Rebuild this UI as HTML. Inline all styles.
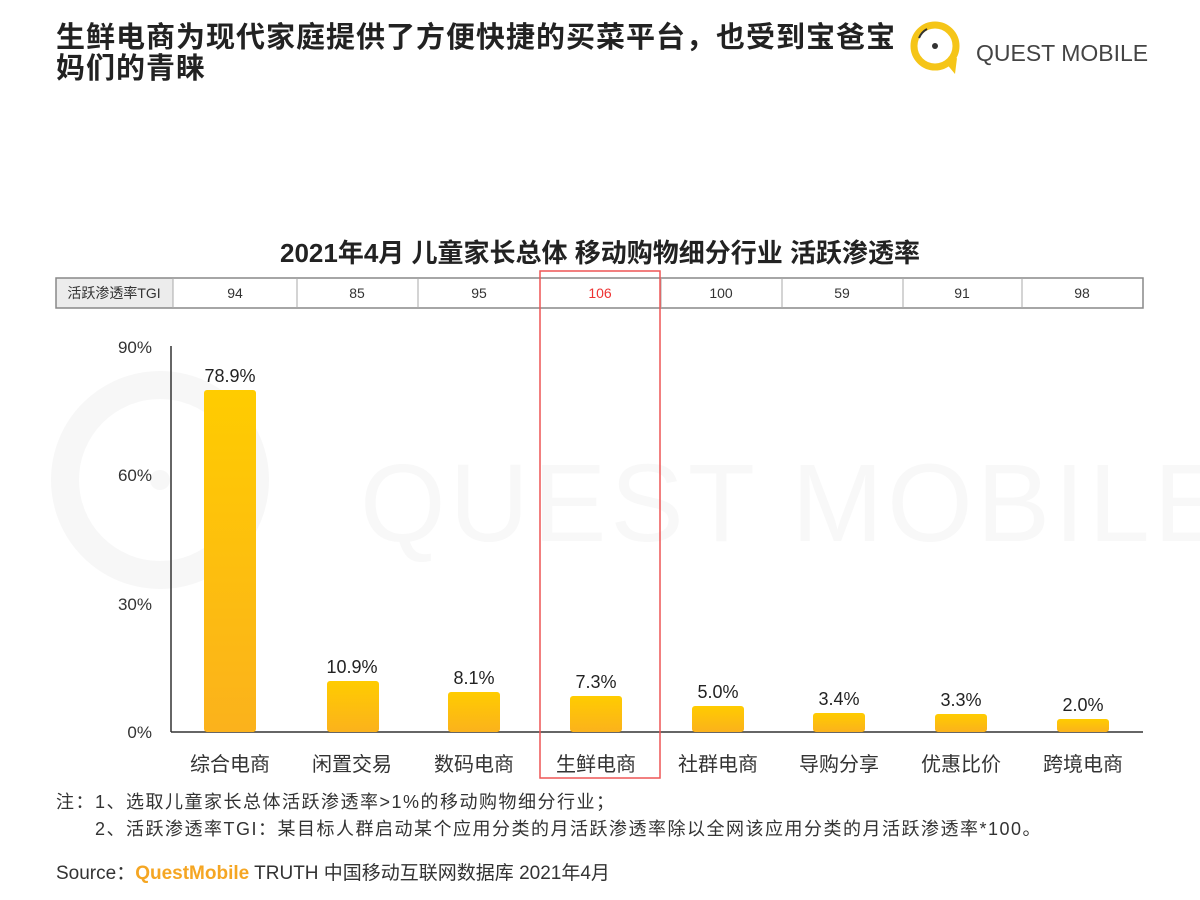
<!DOCTYPE html>
<html><head><meta charset="utf-8"><style>
body{margin:0;width:1200px;height:900px;background:#fff;font-family:"Liberation Sans","Noto Sans CJK SC",sans-serif;position:relative;overflow:hidden}
.a{position:absolute;white-space:nowrap}
</style></head><body>
<div class="a" style="left:56px;top:23px;font-size:29px;letter-spacing:1px;font-weight:bold;line-height:31px;color:#222">生鲜电商为现代家庭提供了方便快捷的买菜平台，也受到宝爸宝<br>妈们的青睐</div>
<svg class="a" style="left:905px;top:14px" width="70" height="62"><circle cx="30" cy="32" r="21" fill="none" stroke="#f5c518" stroke-width="7"/><path d="M40 48 L50 60 L52 44Z" fill="#f5c518"/><circle cx="30" cy="32" r="3" fill="#333"/><path d="M14 24 A18 18 0 0 1 22 15" stroke="#333" stroke-width="2" fill="none"/></svg>
<div class="a" style="left:976px;top:40px;font-size:23px;color:#444">QUEST MOBILE</div>
<svg class="a" style="left:50px;top:350px" width="260" height="260"><circle cx="110" cy="130" r="95" fill="none" stroke="#f7f7f7" stroke-width="28"/><circle cx="110" cy="130" r="10" fill="#f7f7f7"/></svg>
<div class="a" style="left:360px;top:440px;font-size:110px;color:#f8f8f8;letter-spacing:4px">QUEST MOBILE</div>
<div class="a" style="left:0;width:1200px;text-align:center;top:233px;font-size:26px;font-weight:bold;color:#222">2021年4月 儿童家长总体 移动购物细分行业 活跃渗透率</div>
<svg class="a" style="left:0;top:0" width="1200" height="900">
<defs><linearGradient id="g" x1="0" y1="0" x2="0" y2="1"><stop offset="0" stop-color="#ffcc00"/><stop offset="1" stop-color="#fbb21c"/></linearGradient></defs>
<rect x="56" y="278" width="117" height="30" fill="#ececec"/>
<rect x="56" y="278" width="1087" height="30" fill="none" stroke="#888" stroke-width="1.5"/>
<g stroke="#aaa"><line x1="173" y1="278" x2="173" y2="308"/><line x1="297" y1="278" x2="297" y2="308"/><line x1="418" y1="278" x2="418" y2="308"/><line x1="540" y1="278" x2="540" y2="308"/><line x1="661" y1="278" x2="661" y2="308"/><line x1="782" y1="278" x2="782" y2="308"/><line x1="903" y1="278" x2="903" y2="308"/><line x1="1022" y1="278" x2="1022" y2="308"/></g>
<g font-size="14" text-anchor="middle" fill="#333" font-family="Liberation Sans,Noto Sans CJK SC,sans-serif">
<text x="114" y="298">活跃渗透率TGI</text><text x="235" y="298">94</text><text x="357" y="298">85</text><text x="479" y="298">95</text><text x="600" y="298" fill="#e33">106</text><text x="721" y="298">100</text><text x="842" y="298">59</text><text x="962" y="298">91</text><text x="1082" y="298">98</text></g>
<line x1="171" y1="346" x2="171" y2="732" stroke="#333" stroke-width="1.5"/>
<line x1="171" y1="732" x2="1143" y2="732" stroke="#333" stroke-width="1.5"/>
<g font-size="17" text-anchor="end" fill="#333"><text x="152" y="353">90%</text><text x="152" y="481">60%</text><text x="152" y="610">30%</text><text x="152" y="738">0%</text></g>
<g fill="url(#g)">
<rect x="204" y="390" width="52" height="342" rx="3"/>
<rect x="327" y="681" width="52" height="51" rx="3"/>
<rect x="448" y="692" width="52" height="40" rx="3"/>
<rect x="570" y="696" width="52" height="36" rx="3"/>
<rect x="692" y="706" width="52" height="26" rx="3"/>
<rect x="813" y="713" width="52" height="19" rx="3"/>
<rect x="935" y="714" width="52" height="18" rx="3"/>
<rect x="1057" y="719" width="52" height="13" rx="3"/></g>
<g font-size="18" text-anchor="middle" fill="#222">
<text x="230" y="382">78.9%</text><text x="352" y="673">10.9%</text><text x="474" y="684">8.1%</text><text x="596" y="688">7.3%</text><text x="718" y="698">5.0%</text><text x="839" y="705">3.4%</text><text x="961" y="706">3.3%</text><text x="1083" y="711">2.0%</text></g>
<g font-size="20" text-anchor="middle" fill="#333" font-family="Liberation Sans,Noto Sans CJK SC,sans-serif">
<text x="230" y="771">综合电商</text><text x="352" y="771">闲置交易</text><text x="474" y="771">数码电商</text><text x="596" y="771">生鲜电商</text><text x="718" y="771">社群电商</text><text x="839" y="771">导购分享</text><text x="961" y="771">优惠比价</text><text x="1083" y="771">跨境电商</text></g>
<rect x="540" y="271" width="120" height="507" fill="none" stroke="#e55" stroke-width="1.5"/>
</svg>
<div class="a" style="left:56px;top:789px;font-size:18px;letter-spacing:1.5px;line-height:27px;color:#333">注：1、选取儿童家长总体活跃渗透率&gt;1%的移动购物细分行业；</div>
<div class="a" style="left:95px;top:816px;font-size:18px;letter-spacing:1.5px;line-height:27px;color:#333">2、活跃渗透率TGI：某目标人群启动某个应用分类的月活跃渗透率除以全网该应用分类的月活跃渗透率*100。</div>
<div class="a" style="left:56px;top:858px;font-size:19px;color:#333">Source：<span style="color:#f5a623;font-weight:bold">QuestMobile</span> TRUTH 中国移动互联网数据库 2021年4月</div>
</body></html>
